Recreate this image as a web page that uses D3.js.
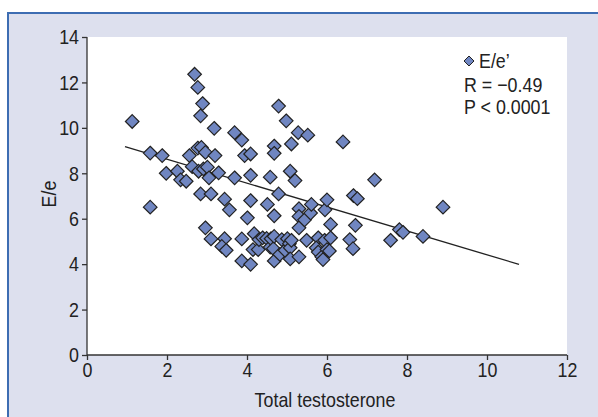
<!DOCTYPE html>
<html>
<head>
<meta charset="utf-8">
<script src="https://cdn.jsdelivr.net/npm/d3@7"></script>
<style>
  body { margin: 0; background: #fff; }
  text { font-family: "Liberation Sans", Arial, sans-serif; fill: #222; }
  .axis path, .axis line { stroke: #333; stroke-width: 1.3; }
</style>
</head>
<body>
<svg id="chart" width="598" height="417"></svg>
<script>
// total testosterone (x) and E/e' (y)
var testo = [1.13, 1.58, 1.58, 1.88, 1.98, 2.26, 2.34, 2.48, 2.56, 2.63,
  2.69, 2.77, 2.89, 2.84, 2.77, 2.86, 2.96, 2.79, 2.91, 3.01,
  3.05, 2.84, 3.10, 3.18, 3.20, 3.29, 2.96, 3.10, 3.44, 3.56,
  3.44, 3.37, 3.48, 3.69, 3.87, 3.94, 4.09, 3.69, 4.09, 3.87,
  4.01, 4.09, 3.87, 4.09, 4.18, 4.15, 4.28, 4.30, 4.39, 4.49,
  4.51, 4.58, 4.58, 4.60, 4.66, 4.68, 4.68, 4.68, 4.68, 4.68,
  4.79, 4.79, 4.82, 4.87, 4.95, 4.98, 5.01, 5.06, 5.08, 5.08,
  5.08, 5.11, 5.11, 5.20, 5.28, 5.30, 5.30, 5.30, 5.30, 5.49,
  5.44, 5.52, 5.59, 5.61, 5.78, 5.73, 5.78, 5.87, 5.90, 5.94,
  5.95, 6.00, 6.00, 6.06, 6.09, 6.09, 6.40, 6.57, 6.65, 6.66,
  6.76, 6.71, 7.19, 7.59, 7.81, 7.90, 8.40, 8.90];
var ee = [10.28, 8.89, 6.51, 8.78, 8.00, 8.09, 7.71, 7.65, 8.78, 8.29,
  12.36, 11.78, 11.07, 10.53, 9.11, 9.14, 8.92, 8.09, 8.19, 8.27,
  7.80, 7.09, 7.09, 9.98, 8.78, 8.02, 5.60, 5.11, 6.86, 6.39,
  5.12, 4.78, 4.61, 9.79, 9.46, 8.78, 8.85, 7.80, 7.91, 5.11,
  6.04, 6.80, 4.14, 3.99, 5.34, 4.64, 4.64, 5.08, 5.16, 5.13,
  6.63, 7.83, 4.75, 5.12, 4.68, 9.20, 8.88, 6.13, 5.22, 4.14,
  7.09, 10.96, 4.43, 5.08, 4.61, 10.31, 5.12, 4.90, 4.72, 4.23,
  8.09, 9.29, 5.05, 7.68, 9.79, 6.44, 6.10, 5.60, 4.32, 5.05,
  5.95, 9.68, 6.25, 6.63, 5.16, 4.72, 4.53, 4.32, 4.20, 5.05,
  6.39, 6.83, 4.64, 4.58, 5.16, 5.75, 9.38, 5.08, 4.68, 7.02,
  6.88, 5.71, 7.71, 5.05, 5.52, 5.40, 5.22, 6.51];

// regression line end points
var fitX = [0.95, 10.8];
var fitY = [9.17, 3.99];

var xTicks = [0, 2, 4, 6, 8, 10, 12];
var yTicks = [0, 2, 4, 6, 8, 10, 12, 14];
var legendLines = ["R = \u22120.49", "P < 0.0001"];

var narrow = 0.85; // squeeze text like a condensed face
var fs = "21px";

var svg = d3.select("#chart");

// lavender panel, border only shows on top/left
svg.append("rect")
  .attr("x", 8).attr("y", 13)
  .attr("width", 620).attr("height", 430)
  .style("fill", "#dde0ee")
  .style("stroke", "#3d6db2")
  .style("stroke-width", 2);

var margin = {top: 37, left: 87},
  width = 480,
  height = 318;

var g = svg.append("g")
  .attr("transform", "translate(" + margin.left + "," + margin.top + ")");

g.append("rect")
  .attr("width", width).attr("height", height)
  .style("fill", "#fff");

var x = d3.scaleLinear().domain([0, 12]).range([0, width]);
var y = d3.scaleLinear().domain([0, 14]).range([height, 0]);

var xaxis = g.append("g")
  .attr("class", "axis")
  .attr("transform", "translate(0," + height + ")")
  .call(d3.axisBottom(x).tickValues(xTicks).tickSizeOuter(0).tickSize(5).tickPadding(2));
xaxis.selectAll("text")
  .style("font-size", fs)
  .attr("transform", "scale(" + narrow + ",1)");

var yaxis = g.append("g")
  .attr("class", "axis")
  .call(d3.axisLeft(y).tickValues(yTicks).tickSizeOuter(0).tickSize(5).tickPadding(2));
yaxis.selectAll("text")
  .style("font-size", fs)
  .attr("x", -8 / narrow)
  .attr("transform", "scale(" + narrow + ",1)");
yaxis.select(".domain").remove();
xaxis.select(".domain").remove();

g.append("line")
  .attr("x1", 0).attr("x2", 0).attr("y1", 0).attr("y2", height)
  .style("stroke", "#333").style("stroke-width", 1.3);
g.append("line")
  .attr("x1", 0).attr("x2", width).attr("y1", height).attr("y2", height)
  .style("stroke", "#333").style("stroke-width", 1.3);

// axis titles
g.append("text")
  .attr("transform", "translate(" + (width / 2 - 2) + "," + (height + 52) + ") scale(" + narrow + ",1)")
  .attr("text-anchor", "middle")
  .style("font-size", fs)
  .text("Total testosterone");

g.append("text")
  .attr("transform", "translate(-31," + (height / 2 - 2) + ") rotate(-90) scale(" + narrow + ",1)")
  .attr("text-anchor", "middle")
  .style("font-size", fs)
  .text("E/e");

// fit line
g.append("line")
  .attr("x1", x(fitX[0])).attr("y1", y(fitY[0]))
  .attr("x2", x(fitX[1])).attr("y2", y(fitY[1]))
  .style("stroke", "#222").style("stroke-width", 1.3);

var diamond = function(r) {
  return "M0," + (-r) + "L" + r + ",0L0," + r + "L" + (-r) + ",0Z";
};

var pts = testo.map(function(v, i) { return {x: v, y: ee[i]}; });

g.selectAll("path.pt")
  .data(pts)
  .enter().append("path")
  .attr("class", "pt")
  .attr("transform", function(d) { return "translate(" + x(d.x) + "," + y(d.y) + ")"; })
  .attr("d", diamond(6.8))
  .style("fill", "#7086c1")
  .style("stroke", "#222")
  .style("stroke-width", 1.2);

// legend
var leg = g.append("g").attr("transform", "translate(" + (469 - margin.left) + "," + (61 - margin.top) + ")");
leg.append("path")
  .attr("d", diamond(5))
  .style("fill", "#7086c1")
  .style("stroke", "#222")
  .style("stroke-width", 1);
leg.append("text")
  .attr("transform", "translate(10,7) scale(" + narrow + ",1)")
  .style("font-size", fs)
  .text("E/e\u2019");
leg.selectAll("text.stat")
  .data(legendLines)
  .enter().append("text")
  .attr("class", "stat")
  .attr("transform", function(d, i) { return "translate(-5," + (31 + i * 22) + ") scale(" + narrow + ",1)"; })
  .style("font-size", fs)
  .text(function(d) { return d; });
</script>
</body>
</html>
